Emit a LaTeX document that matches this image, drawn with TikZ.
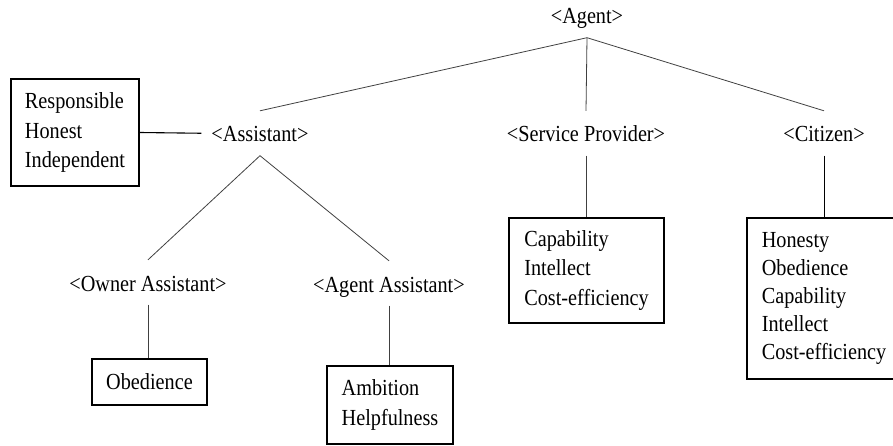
\documentclass[tikz,border=0pt]{standalone}
\usepackage{fontspec}
\setmainfont{Liberation Serif}[FakeStretch=0.88]

\begin{document}
\begin{tikzpicture}[x=1pt,y=-1pt,
    role/.style={anchor=base,inner xsep=10pt,inner ysep=0pt,text height=31pt,text depth=13.5pt,
      font=\fontsize{23}{29}\selectfont},
    trait/.style={draw,line width=1.3pt,align=left,inner sep=0pt,font=\fontsize{23}{29.5}\selectfont},
    link/.style={line width=0.8pt,black!75}]
\useasboundingbox (0,0) rectangle (893,446);
\node[role] (agent) at (587,24) {<Agent>};
\node[role] (asst) at (260,142) {<Assistant>};
\node[role] (prov) at (586,142) {<Service Provider>};
\node[role] (citz) at (824,142) {<Citizen>};
\node[role] (owner) at (148,291) {<Owner Assistant>};
\node[role] (aasst) at (389,292) {<Agent Assistant>};
\node[trait,minimum width=128pt,minimum height=107pt] (resp) at (75,132.5)
  {Responsible\\Honest\\Independent};
\node[trait,minimum width=115pt,minimum height=46pt] (obed) at (149.5,382) {Obedience};
\node[trait,minimum width=126pt,minimum height=78pt] (ambi) at (390,405) {Ambition\\Helpfulness};
\node[trait,minimum width=155pt,minimum height=105pt] (capa) at (586.5,270.5)
  {Capability\\Intellect\\Cost-efficiency};
\node[trait,minimum width=154pt,minimum height=161pt,font=\fontsize{23}{27.8}\selectfont] (hone) at (824,298.5)
  {Honesty\\Obedience\\Capability\\Intellect\\Cost-efficiency};
\draw[link] (asst.north) -- (agent.south) -- (citz.north);
\draw[link] (agent.south) -- (prov.north);
\draw[link] (owner.north) -- (asst.south) -- (aasst.north);
\draw[link,black,line width=1.1pt] (resp.east) -- (asst.west);
\draw[link] (prov.south) -- (prov.south |- capa.north);
\draw[link,black] (citz.south) -- (citz.south |- hone.north);
\draw[link] (owner.south) -- (owner.south |- obed.north);
\draw[link] (aasst.south) -- (aasst.south |- ambi.north);
\end{tikzpicture}
\end{document}
